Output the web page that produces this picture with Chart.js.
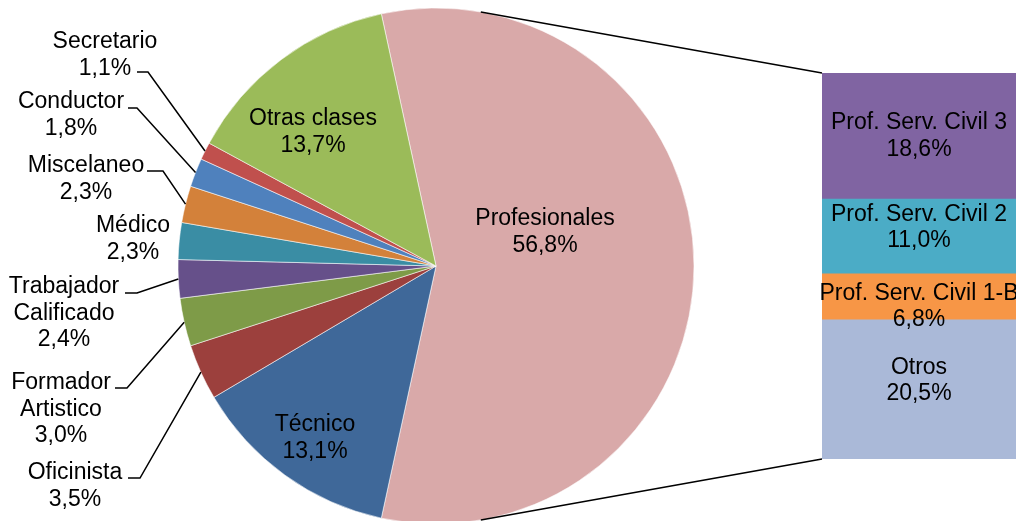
<!DOCTYPE html>
<html lang="es">
<head>
<meta charset="utf-8">
<title>Distribución por clase</title>
<script src="https://cdn.jsdelivr.net/npm/chart.js@4.4.0/dist/chart.umd.min.js"></script>
<style>
  html, body { margin: 0; padding: 0; background: #fff; overflow: hidden; }
  #wrap { position: relative; width: 1016px; height: 521px; }
  #pieChart { position: absolute; left: 0; top: 0; }
  #barChart { position: absolute; left: 800px; top: 63px; }
</style>
</head>
<body>
<div id="wrap">
  <canvas id="pieChart" width="1016" height="521"></canvas>
  <canvas id="barChart" width="216" height="406"></canvas>
</div>
<script>
// pie slices, clockwise starting with the split slice
const pieLabels = [
  "Profesionales", "Técnico", "Oficinista", "Formador Artistico",
  "Trabajador Calificado", "Médico", "Miscelaneo", "Conductor",
  "Secretario", "Otras clases",
];
const pieValues = [56.8, 13.1, 3.5, 3.0, 2.4, 2.3, 2.3, 1.8, 1.1, 13.7];
const pieColors = [
  "#D9A9A9", "#3F6899", "#9C403D", "#7E9B48", "#66508A",
  "#3A8DA4", "#D3813A", "#4F81BD", "#C0504D", "#9BBB59",
];

// breakdown of "Profesionales", top to bottom
const barLabels = [
  "Prof. Serv. Civil 3", "Prof. Serv. Civil 2",
  "Prof. Serv. Civil 1-B", "Otros",
];
const barValues = [18.6, 11.0, 6.8, 20.5];
const barColors = ["#8064A2", "#4BACC6", "#F79646", "#AAB9D8"];

const FONT = '23px "Liberation Sans", Arial, sans-serif';
const LINE_H = 26.5;

// label placement (text layout only)
const innerLabels = {
  "Profesionales": { dx: 109, dy: -34 },
  "Técnico": { dx: -121, dy: 172 },
  "Otras clases": { dx: -123, dy: -134 },
};
const outerLabels = {
  "Secretario": { x: 105, y: 42, lines: ["Secretario"], lead: [137, 72, 148] },
  "Conductor": { x: 71, y: 102, lines: ["Conductor"], lead: [128, 108, 137] },
  "Miscelaneo": { x: 86, y: 166, lines: ["Miscelaneo"], lead: [147, 171, 163] },
  "Médico": { x: 133, y: 226, lines: ["Médico"], lead: null },
  "Trabajador Calificado": { x: 64, y: 287, lines: ["Trabajador", "Calificado"], lead: [125, 293, 137] },
  "Formador Artistico": { x: 61, y: 383, lines: ["Formador", "Artistico"], lead: [115, 388, 127] },
  "Oficinista": { x: 75, y: 473, lines: ["Oficinista"], lead: [128, 478, 140] },
};
const barLabelShift = [0, -9, 10, -9];
const CONNECTOR_ANGLE = 80;

const fmt = (v) => v.toFixed(1).replace(".", ",") + "%";

function drawLines(ctx, lines, x, y) {
  lines.forEach((t, i) => ctx.fillText(t, x, y + i * LINE_H));
}

const barSum = barValues.reduce((s, v) => s + v, 0);

const barLabelPlugin = {
  id: "barLabels",
  afterDatasetsDraw(chart) {
    const ctx = chart.ctx;
    ctx.save();
    ctx.font = FONT;
    ctx.fillStyle = "#000";
    ctx.textAlign = "center";
    ctx.textBaseline = "middle";
    chart.data.datasets.forEach((ds, di) => {
      const el = chart.getDatasetMeta(di).data[0];
      const idx = barLabels.indexOf(ds.label);
      const cy = (el.y + el.base) / 2 + barLabelShift[idx];
      drawLines(ctx, [ds.label, fmt(barValues[idx])], el.x, cy - LINE_H / 2);
    });
    ctx.restore();
  },
};

const barChart = new Chart(document.getElementById("barChart"), {
  type: "bar",
  data: {
    labels: [""],
    datasets: barLabels
      .map((l, i) => ({
        label: l,
        data: [barValues[i]],
        backgroundColor: barColors[i],
        borderWidth: 0,
        barPercentage: 1,
        categoryPercentage: 1,
      }))
      .reverse(),
  },
  options: {
    responsive: false,
    animation: false,
    layout: { padding: { left: 22, right: 0, top: 10, bottom: 10 } },
    plugins: { legend: { display: false }, tooltip: { enabled: false } },
    scales: {
      x: { display: false, stacked: true },
      y: { display: false, stacked: true, min: 0, max: barSum },
    },
  },
  plugins: [barLabelPlugin],
});

const pieLabelPlugin = {
  id: "pieLabels",
  afterDatasetsDraw(chart) {
    const ctx = chart.ctx;
    const arcs = chart.getDatasetMeta(0).data;
    const cx = arcs[0].x;
    const cy = arcs[0].y;
    const R = arcs[0].outerRadius;
    ctx.save();
    ctx.font = FONT;
    ctx.fillStyle = "#000";
    ctx.strokeStyle = "#000";
    ctx.lineWidth = 1.5;
    ctx.textAlign = "center";
    ctx.textBaseline = "middle";

    pieLabels.forEach((name, i) => {
      const el = arcs[i];
      const inner = innerLabels[name];
      if (inner) {
        drawLines(ctx, [name, fmt(pieValues[i])], cx + inner.dx, cy + inner.dy - LINE_H / 2);
        return;
      }
      const o = outerLabels[name];
      if (!o) return;
      drawLines(ctx, [...o.lines, fmt(pieValues[i])], o.x, o.y);
      if (o.lead) {
        const mid = (el.startAngle + el.endAngle) / 2;
        ctx.beginPath();
        ctx.moveTo(o.lead[0], o.lead[1]);
        ctx.lineTo(o.lead[2], o.lead[1]);
        ctx.lineTo(cx + Math.cos(mid) * R, cy + Math.sin(mid) * R);
        ctx.stroke();
      }
    });

    // connector lines from the pie to the breakdown bar
    const bc = barChart.canvas;
    const area = barChart.chartArea;
    const a = (CONNECTOR_ANGLE * Math.PI) / 180;
    const bx = bc.offsetLeft + area.left;
    ctx.beginPath();
    ctx.moveTo(cx + Math.cos(-a) * R, cy + Math.sin(-a) * R);
    ctx.lineTo(bx, bc.offsetTop + area.top);
    ctx.moveTo(cx + Math.cos(a) * R, cy + Math.sin(a) * R);
    ctx.lineTo(bx, bc.offsetTop + area.bottom);
    ctx.stroke();
    ctx.restore();
  },
};

const pieTotal = pieValues.reduce((s, v) => s + v, 0);

new Chart(document.getElementById("pieChart"), {
  type: "pie",
  data: {
    labels: pieLabels,
    datasets: [
      {
        data: pieValues,
        backgroundColor: pieColors,
        borderColor: "rgba(255,255,255,0.55)",
        borderWidth: 1,
      },
    ],
  },
  options: {
    responsive: false,
    animation: false,
    radius: 258,
    // centre the split slice on the right-hand side
    rotation: 90 - (pieValues[0] / pieTotal) * 180,
    layout: { padding: { left: 0, right: 144, top: 11, bottom: 0 } },
    plugins: { legend: { display: false }, tooltip: { enabled: false } },
  },
  plugins: [pieLabelPlugin],
});
</script>
</body>
</html>
